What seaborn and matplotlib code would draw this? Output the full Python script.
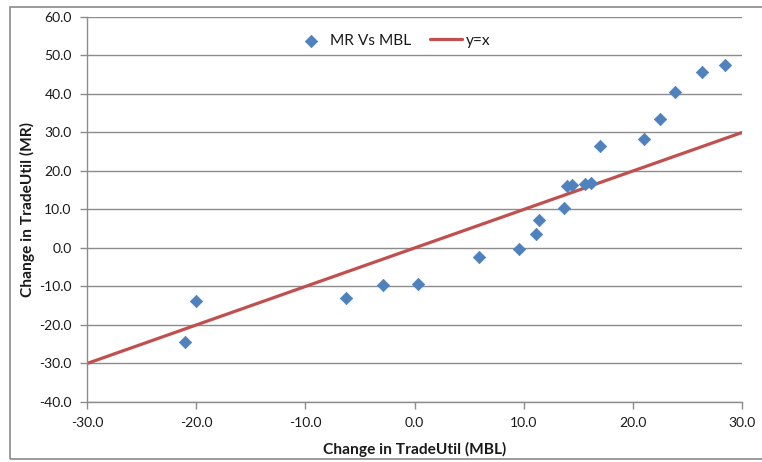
import matplotlib
matplotlib.use("Agg")
import matplotlib.pyplot as plt
import seaborn as sns
import pandas as pd
from matplotlib.patches import Rectangle

# Change in trade utility: MBL (x) against MR (y)
mbl_change = [-21.0, -20.0, -6.3, -2.9, 0.3, 5.9, 9.6, 11.1, 11.4, 13.7,
              14.0, 14.4, 15.6, 16.2, 17.0, 21.0, 22.5, 23.9, 26.3, 28.4]
mr_change = [-24.5, -13.8, -13.1, -9.5, -9.3, -2.4, -0.3, 3.7, 7.4, 10.4,
             16.1, 16.4, 16.7, 16.9, 26.4, 28.3, 33.4, 40.5, 45.7, 47.6]

# Reference line y = x across the x range
ref_x = [-30.0, 30.0]
ref_y = [-30.0, 30.0]

x_ticks = [-30, -20, -10, 0, 10, 20, 30]
y_ticks = [-40, -30, -20, -10, 0, 10, 20, 30, 40, 50, 60]

sns.set_style("white")
plt.rcParams["font.family"] = ["Lato", "DejaVu Sans"]

points = pd.DataFrame({"MBL": mbl_change, "MR": mr_change})
line = pd.DataFrame({"x": ref_x, "y": ref_y})

fig = plt.figure(figsize=(7.62, 4.62), dpi=100)
ax = fig.add_axes([87 / 762, 1 - 402 / 462, 655 / 762, 385 / 462])

grid_col = "#8c8c8c"
ax.set_axisbelow(True)
ax.yaxis.grid(True, color=grid_col, linewidth=1.0)
ax.xaxis.grid(False)

sns.lineplot(data=line, x="x", y="y", ax=ax, color="#C0504D", linewidth=2.3,
             label="y=x", zorder=2)
sns.scatterplot(data=points, x="MBL", y="MR", ax=ax, marker="D", s=40,
                color="#4F81BD", edgecolor="#4F81BD", linewidth=0.5,
                label="MR Vs MBL", zorder=3)

ax.set_xlim(-30, 30)
ax.set_ylim(-40, 60)
ax.set_xticks(x_ticks)
ax.set_yticks(y_ticks)
ax.set_xticklabels([f"{v:.1f}" for v in x_ticks])
ax.set_yticklabels([f"{v:.1f}" for v in y_ticks])
ax.tick_params(axis="both", which="both", direction="out", length=5, width=1,
               color=grid_col, labelsize=10, labelcolor="#1a1a1a", pad=6)
ax.tick_params(axis="x", bottom=True)
ax.tick_params(axis="y", left=True)

for side in ("top", "right"):
    ax.spines[side].set_visible(False)
for side in ("left", "bottom"):
    ax.spines[side].set_color(grid_col)
    ax.spines[side].set_linewidth(1.0)

ax.set_xlabel("Change in TradeUtil (MBL)", fontsize=11.2, fontweight="bold",
              color="#1a1a1a", labelpad=9)
ax.set_ylabel("Change in TradeUtil (MR)", fontsize=11.2, fontweight="bold",
              color="#1a1a1a", labelpad=3)

handles, labels = ax.get_legend_handles_labels()
order = [labels.index("MR Vs MBL"), labels.index("y=x")]
ax.legend([handles[i] for i in order], [labels[i] for i in order],
          loc="center", bbox_to_anchor=(0.466, 0.938), ncol=2, frameon=False,
          fontsize=11.2, handlelength=2.1, handletextpad=0.2,
          columnspacing=1.2, labelcolor="#1a1a1a")

# Chart area border
fig.patches.append(Rectangle((10 / 762, 1 - 459 / 462), 1.0, 452 / 462,
                             transform=fig.transFigure, fill=False,
                             edgecolor="#8a8a8a", linewidth=1.2))

fig.savefig("out.png", dpi=100)
